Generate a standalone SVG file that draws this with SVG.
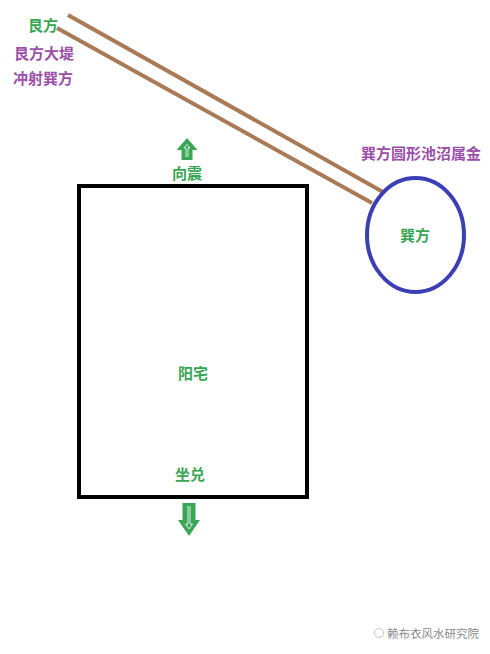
<svg xmlns="http://www.w3.org/2000/svg" width="490" height="654" viewBox="0 0 490 654">
<style>
text{font-family:"Noto Sans CJK SC","Noto Sans",sans-serif;font-size:15px;font-weight:bold;text-anchor:middle;dominant-baseline:central}
.g{fill:#3aa655}
.p{fill:#9b4fa8}
.w{fill:#8a8a8a;font-weight:normal;font-size:11.5px;text-anchor:start}
.arrow{fill:#3aa655;stroke:none}
.in{fill:none;stroke:#ffffff;stroke-width:0.9;stroke-opacity:0.9}
</style>
<rect width="490" height="654" fill="#ffffff"/>
<g id="connectors">
<line x1="68" y1="15" x2="383" y2="192" stroke="#a87a56" stroke-width="4"/>
<line x1="57" y1="28" x2="372" y2="203" stroke="#a87a56" stroke-width="4"/>
</g>
<g id="house">
<rect x="79" y="186" width="228" height="311" fill="none" stroke="#000000" stroke-width="4"/>
<text class="g" x="193" y="372">阳宅</text>
</g>
<g id="pond">
<ellipse cx="415.5" cy="235" rx="48.5" ry="57" fill="none" stroke="#3b3fb5" stroke-width="4"/>
<text class="g" x="415" y="234">巽方</text>
</g>
<g id="up-arrow">
<polygon class="arrow" points="187,138 197.5,150 192.5,150 192.5,160 181.5,160 181.5,150 176.5,150"/>
<polyline class="in" points="186,157 186,148 184,148 187,144.5 190,148 188,148 188,157"/>
<text class="g" x="187" y="172">向震</text>
</g>
<g id="down-arrow">
<polygon class="arrow" points="182.5,503 195.5,503 195.5,520 200,520 189,536 178,520 182.5,520"/>
<polyline class="in" points="188,506 188,524 185.5,524 189,529 192.5,524 190,524 190,506"/>
<text class="g" x="190" y="473">坐兑</text>
</g>
<g id="labels">
<text class="g" x="43" y="24">艮方</text>
<text class="p" x="44" y="52">艮方大堤</text>
<text class="p" x="43" y="77">冲射巽方</text>
<text class="p" x="421" y="152">巽方圆形池沼属金</text>
</g>
<g id="watermark">
<circle cx="379" cy="633" r="4.5" fill="none" stroke="#c8c8c8" stroke-width="1"/>
<text class="w" x="387" y="633">赖布衣风水研究院</text>
</g>
</svg>
